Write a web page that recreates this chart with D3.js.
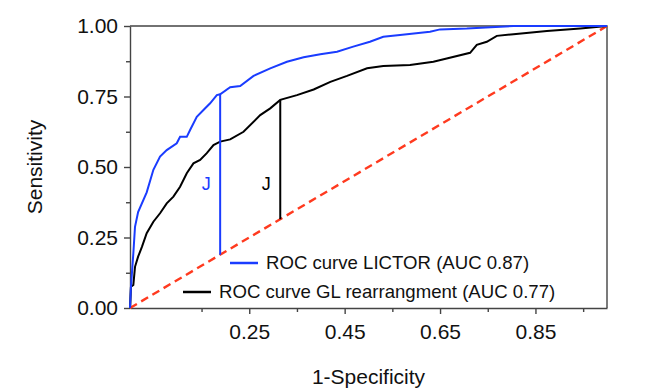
<!DOCTYPE html>
<meta charset="utf-8">
<style>
body { margin: 0; background: #fff; }
svg { font-family: "Liberation Sans", Arial, sans-serif; }
.axis path, .axis line { stroke: #444; stroke-width: 1.4; }
.axis text { fill: #111; }
</style>
<svg width="648" height="390"></svg>
<script src="https://cdn.jsdelivr.net/npm/d3@7"></script>
<script>
// ROC curve points (1-specificity, sensitivity)
var lictorFpr = [0, 0.002, 0.007, 0.0105, 0.017, 0.035, 0.049, 0.063, 0.077, 0.098, 0.105, 0.119, 0.126, 0.14, 0.154, 0.168, 0.182, 0.189,
                 0.21, 0.231, 0.259, 0.294, 0.329, 0.364, 0.399, 0.434, 0.468, 0.503, 0.531, 0.566, 0.629, 0.65, 0.706, 0.804, 1];
var lictorTpr = [0, 0.075, 0.194, 0.288, 0.34, 0.41, 0.49, 0.537, 0.56, 0.584, 0.607, 0.607, 0.631, 0.678, 0.702, 0.726, 0.755, 0.758,
                 0.783, 0.787, 0.823, 0.85, 0.873, 0.889, 0.9, 0.909, 0.927, 0.944, 0.962, 0.968, 0.98, 0.988, 0.991, 1, 1];

var glFpr = [0, 0.002, 0.007, 0.0105, 0.017, 0.025, 0.035, 0.049, 0.063, 0.077, 0.091, 0.105, 0.119, 0.133, 0.147, 0.161, 0.175, 0.189,
             0.21, 0.238, 0.273, 0.294, 0.315, 0.35, 0.385, 0.42, 0.455, 0.497, 0.531, 0.587, 0.636, 0.664, 0.713, 0.727, 0.748, 0.769, 0.804, 0.874, 0.944, 1];
var glTpr = [0, 0.075, 0.082, 0.146, 0.182, 0.217, 0.265, 0.306, 0.336, 0.371, 0.395, 0.43, 0.478, 0.513, 0.525, 0.549, 0.578, 0.59,
             0.598, 0.625, 0.684, 0.708, 0.738, 0.755, 0.775, 0.802, 0.823, 0.85, 0.858, 0.862, 0.873, 0.885, 0.905, 0.933, 0.944, 0.965, 0.971, 0.982, 0.991, 1];

// Youden J cut-offs
var jFpr = [0.189, 0.315];
var jTpr = [0.758, 0.738];

var yTicks = [0, 0.25, 0.5, 0.75, 1];
var yMinor = [0.125, 0.375, 0.625, 0.875];
var xTicks = [0.25, 0.45, 0.65, 0.85];
var xMinor = [0.15, 0.35, 0.55, 0.75, 0.95];

var legendLabels = ["ROC curve LICTOR (AUC 0.87)", "ROC curve GL rearrangment (AUC 0.77)"];
var colors = ["#1a3cff", "#000"];

var svg = d3.select("svg");
var x = d3.scaleLinear().domain([0, 1]).range([130, 607]);
var y = d3.scaleLinear().domain([0, 1]).range([308, 26]);

// frame (top and right)
svg.append("path")
    .attr("d", "M" + x(0) + "," + y(1) + "H" + x(1) + "V" + y(0))
    .attr("fill", "none").attr("stroke", "#444").attr("stroke-width", 1.4);

// minor ticks
svg.append("g").attr("class", "axis")
    .attr("transform", "translate(" + x(0) + ",0)")
    .call(d3.axisLeft(y).tickValues(yMinor).tickSize(4).tickFormat(""))
    .call(function(g) { g.select(".domain").remove(); });
svg.append("g").attr("class", "axis")
    .attr("transform", "translate(0," + y(0) + ")")
    .call(d3.axisBottom(x).tickValues(xMinor).tickSize(4).tickFormat(""))
    .call(function(g) { g.select(".domain").remove(); });

svg.append("g").attr("class", "axis")
    .attr("transform", "translate(" + x(0) + ",0)")
    .call(d3.axisLeft(y).tickValues(yTicks).tickSize(6).tickSizeOuter(0).tickPadding(6).tickFormat(d3.format(".2f")))
    .selectAll("text").attr("font-size", 21);

svg.append("g").attr("class", "axis")
    .attr("transform", "translate(0," + y(0) + ")")
    .call(d3.axisBottom(x).tickValues(xTicks).tickSize(6).tickSizeOuter(0).tickPadding(10).tickFormat(d3.format(".2f")))
    .selectAll("text").attr("font-size", 21);

// diagonal
svg.append("line")
    .attr("x1", x(0)).attr("y1", y(0)).attr("x2", x(1)).attr("y2", y(1))
    .attr("stroke", "#ff3a1f").attr("stroke-width", 2.4).attr("stroke-dasharray", "8,5");

var line = d3.line().x(function(d) { return x(d[0]); }).y(function(d) { return y(d[1]); });

svg.append("path")
    .datum(d3.zip(glFpr, glTpr))
    .attr("d", line).attr("fill", "none").attr("stroke", colors[1]).attr("stroke-width", 2);
svg.append("path")
    .datum(d3.zip(lictorFpr, lictorTpr))
    .attr("d", line).attr("fill", "none").attr("stroke", colors[0]).attr("stroke-width", 2);

// J lines down to the diagonal
jFpr.forEach(function(f, i) {
  svg.append("line")
      .attr("x1", x(f)).attr("x2", x(f))
      .attr("y1", y(jTpr[i])).attr("y2", y(f))
      .attr("stroke", colors[i]).attr("stroke-width", 2);
  svg.append("text")
      .attr("x", x(f) - 14).attr("y", y(0.42))
      .attr("text-anchor", "middle").attr("font-size", 18)
      .attr("fill", colors[i]).text("J");
});

// legend
var legX = [230, 183], legY = [263, 292];
legendLabels.forEach(function(t, i) {
  svg.append("line")
      .attr("x1", legX[i]).attr("x2", legX[i] + 28)
      .attr("y1", legY[i]).attr("y2", legY[i])
      .attr("stroke", colors[i]).attr("stroke-width", 2.5);
  svg.append("text")
      .attr("x", legX[i] + 36).attr("y", legY[i] + 6)
      .attr("font-size", 18.6).attr("fill", "#111").text(t);
});

// axis titles
svg.append("text")
    .attr("x", x(0.5)).attr("y", 384)
    .attr("text-anchor", "middle").attr("font-size", 21).attr("fill", "#111")
    .text("1-Specificity");
svg.append("text")
    .attr("transform", "translate(42," + y(0.5) + ") rotate(-90)")
    .attr("text-anchor", "middle").attr("font-size", 21).attr("fill", "#111")
    .text("Sensitivity");
</script>
